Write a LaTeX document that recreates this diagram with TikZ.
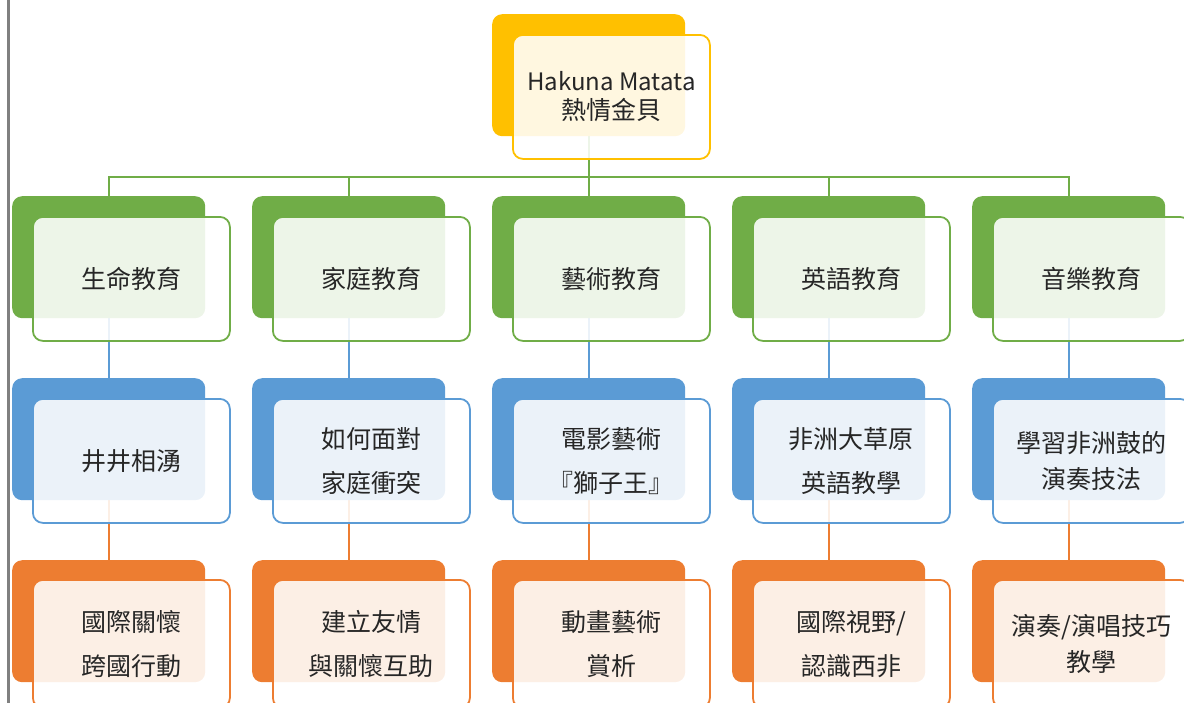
\documentclass[tikz,border=0pt]{standalone}
\usepackage{fontspec}
\setmainfont{Noto Sans CJK TC}
\definecolor{cgreen}{HTML}{70AD47}
\definecolor{cblue}{HTML}{5B9BD5}
\definecolor{corange}{HTML}{ED7D31}
\definecolor{cgold}{HTML}{FFC000}
\definecolor{cgray}{HTML}{808080}
\tikzset{
  backbox/.style={rounded corners=10pt, minimum width=193pt, minimum height=122pt,
    inner sep=0pt, anchor=north west, fill=#1},
  frontbox/.style={rounded corners=10pt, minimum width=197pt, minimum height=124pt,
    inner sep=0pt, anchor=north west, draw=#1, line width=1.8pt, fill=white,
    fill opacity=0.88, text opacity=1, align=center, text=black!85,
    font=\fontsize{25}{44}\selectfont},
  link/.style={line width=2pt, draw=#1},
}
\begin{document}
\begin{tikzpicture}[x=1pt,y=-1pt]
\useasboundingbox (0,0) rectangle (1184,702);
\clip (0,0) rectangle (1184,702);
\draw[cgray, line width=3pt] (8,-2) -- (8,704);

% connectors (drawn first)
\coordinate (bus) at (588.5,177);
\coordinate (topb) at (588.5,136);
\draw[link=cgreen] (topb) -- (bus);
\foreach \x in {108.5,348.5,588.5,828.5,1068.5}{
  \draw[link=cgreen] (bus) -| (\x,196);
  \draw[link=cblue] (\x,318) -- (\x,378);
  \draw[link=corange] (\x,499) -- (\x,560);
}

% top
\node[backbox=cgold] (t0b) at (492,14) {};
\node[frontbox=cgold, font=\fontsize{24}{30}\selectfont] (t0) at (512,34) {Hakuna Matata\\[-1pt]{\fontsize{25}{30}\selectfont 熱情金貝}};

% level 1
\node[backbox=cgreen] (g1b) at (12,196) {};
\node[frontbox=cgreen] (g1) at (32,216) {生命教育};
\node[backbox=cgreen] (g2b) at (252,196) {};
\node[frontbox=cgreen] (g2) at (272,216) {家庭教育};
\node[backbox=cgreen] (g3b) at (492,196) {};
\node[frontbox=cgreen] (g3) at (512,216) {藝術教育};
\node[backbox=cgreen] (g4b) at (732,196) {};
\node[frontbox=cgreen] (g4) at (752,216) {英語教育};
\node[backbox=cgreen] (g5b) at (972,196) {};
\node[frontbox=cgreen] (g5) at (992,216) {音樂教育};

% level 2
\node[backbox=cblue] (b1b) at (12,378) {};
\node[frontbox=cblue] (b1) at (32,398) {井井相湧};
\node[backbox=cblue] (b2b) at (252,378) {};
\node[frontbox=cblue] (b2) at (272,398) {如何面對\\家庭衝突};
\node[backbox=cblue] (b3b) at (492,378) {};
\node[frontbox=cblue] (b3) at (512,398) {電影藝術\\『獅子王』};
\node[backbox=cblue] (b4b) at (732,378) {};
\node[frontbox=cblue] (b4) at (752,398) {非洲大草原\\英語教學};
\node[backbox=cblue] (b5b) at (972,378) {};
\node[frontbox=cblue, font=\fontsize{25}{36}\selectfont] (b5) at (992,398) {學習非洲鼓的\\演奏技法};

% level 3
\node[backbox=corange] (o1b) at (12,560) {};
\node[frontbox=corange, minimum height=128pt] (o1) at (32,579) {國際關懷\\跨國行動};
\node[backbox=corange] (o2b) at (252,560) {};
\node[frontbox=corange, minimum height=128pt] (o2) at (272,579) {建立友情\\與關懷互助};
\node[backbox=corange] (o3b) at (492,560) {};
\node[frontbox=corange, minimum height=128pt] (o3) at (512,579) {動畫藝術\\賞析};
\node[backbox=corange] (o4b) at (732,560) {};
\node[frontbox=corange, minimum height=128pt] (o4) at (752,579) {國際視野/\\認識西非};
\node[backbox=corange] (o5b) at (972,560) {};
\node[frontbox=corange, minimum height=128pt, font=\fontsize{25}{36}\selectfont] (o5) at (992,579) {演奏/演唱技巧\\教學};
\end{tikzpicture}
\end{document}
